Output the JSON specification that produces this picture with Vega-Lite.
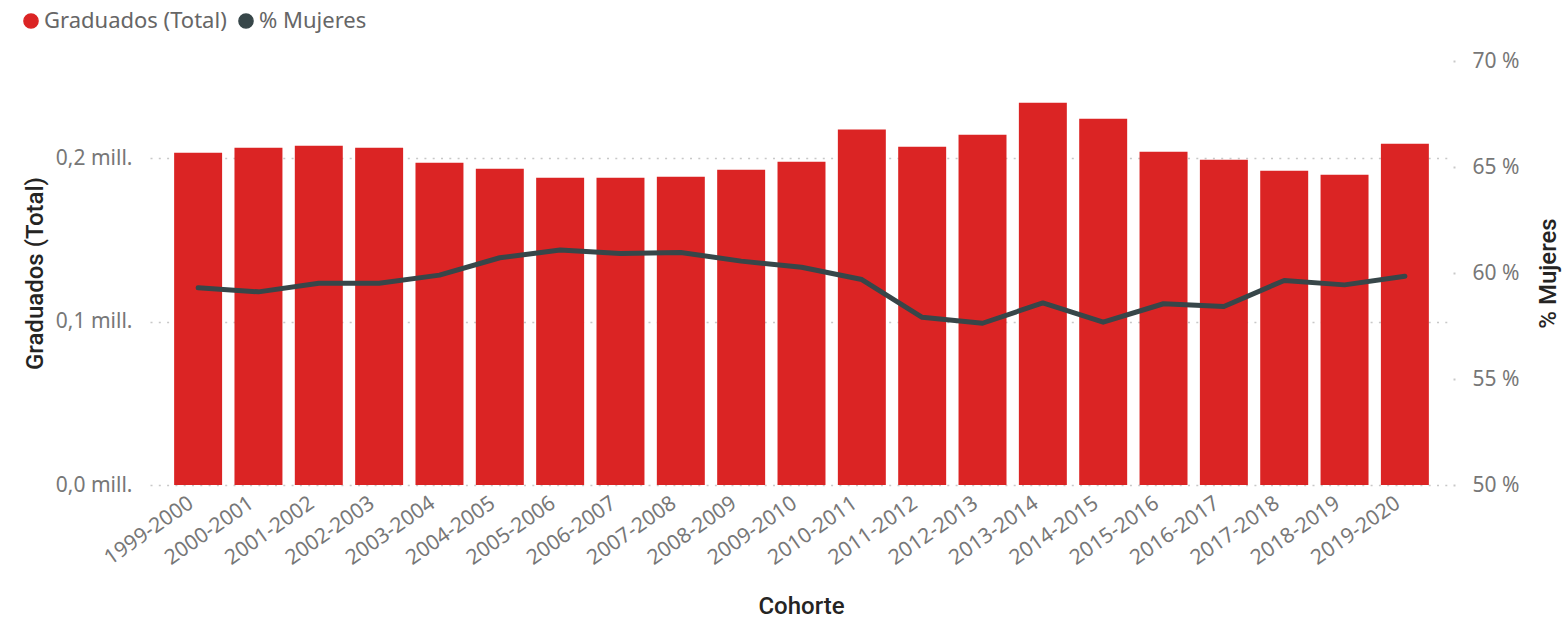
{
  "$schema": "https://vega.github.io/schema/vega-lite/v6.json",
  "autosize": {"type": "none"},
  "padding": {"left": 150, "top": 61, "right": 109, "bottom": 135},
  "width": 1303,
  "height": 424,
  "background": "#ffffff",
  "config": {
    "view": {"stroke": null},
    "font": "Noto Sans",
    "axis": {
      "labelFont": "Noto Sans",
      "labelFontSize": 21,
      "labelColor": "#777777",
      "titleFont": "Roboto",
      "titleFontSize": 24,
      "titleFontWeight": 500,
      "titleColor": "#252423",
      "domain": false
    }
  },
  "data": {
    "values": [
      {"cohorte": "1999-2000", "graduados": 203200, "mujeres": 59.30},
      {"cohorte": "2000-2001", "graduados": 206300, "mujeres": 59.11},
      {"cohorte": "2001-2002", "graduados": 207500, "mujeres": 59.52},
      {"cohorte": "2002-2003", "graduados": 206300, "mujeres": 59.52},
      {"cohorte": "2003-2004", "graduados": 197100, "mujeres": 59.90},
      {"cohorte": "2004-2005", "graduados": 193500, "mujeres": 60.72},
      {"cohorte": "2005-2006", "graduados": 188000, "mujeres": 61.08},
      {"cohorte": "2006-2007", "graduados": 188000, "mujeres": 60.92},
      {"cohorte": "2007-2008", "graduados": 188600, "mujeres": 60.97},
      {"cohorte": "2008-2009", "graduados": 192800, "mujeres": 60.56},
      {"cohorte": "2009-2010", "graduados": 197700, "mujeres": 60.27},
      {"cohorte": "2010-2011", "graduados": 217500, "mujeres": 59.69},
      {"cohorte": "2011-2012", "graduados": 206900, "mujeres": 57.91},
      {"cohorte": "2012-2013", "graduados": 214300, "mujeres": 57.63},
      {"cohorte": "2013-2014", "graduados": 233800, "mujeres": 58.59},
      {"cohorte": "2014-2015", "graduados": 224000, "mujeres": 57.68},
      {"cohorte": "2015-2016", "graduados": 203900, "mujeres": 58.55},
      {"cohorte": "2016-2017", "graduados": 199000, "mujeres": 58.42},
      {"cohorte": "2017-2018", "graduados": 192200, "mujeres": 59.65},
      {"cohorte": "2018-2019", "graduados": 189800, "mujeres": 59.44},
      {"cohorte": "2019-2020", "graduados": 208700, "mujeres": 59.85}
    ]
  },
  "encoding": {
    "x": {
      "field": "cohorte",
      "type": "ordinal",
      "sort": null,
      "scale": {"paddingInner": 0.205, "paddingOuter": 0.4},
      "axis": {
        "title": "Cohorte",
        "titleX": 651,
        "titleY": 121,
        "titleAlign": "center",
        "titleBaseline": "middle",
        "labelAngle": -35,
        "labelAlign": "right",
        "labelBaseline": "top",
        "labelPadding": 7,
        "labelOffset": -13,
        "ticks": false,
        "grid": false
      }
    }
  },
  "layer": [
    {
      "mark": {"type": "bar", "color": "#DB2424"},
      "encoding": {
        "y": {
          "field": "graduados",
          "type": "quantitative",
          "scale": {"domain": [0, 259400], "nice": false, "zero": true},
          "axis": {
            "title": "Graduados (Total)",
            "titleAngle": -90,
            "titleX": -115,
            "titleY": 212,
            "titleAlign": "center",
            "titleBaseline": "middle",
            "values": [0, 100000, 200000],
            "labelExpr": "replace(format(datum.value / 1000000, '.1f'), '.', ',') + ' mill.'",
            "labelPadding": 18,
            "ticks": false,
            "grid": true,
            "gridColor": "#c8c8c8",
            "gridDash": [2, 6.3],
            "gridWidth": 1.5
          }
        },
        "color": {
          "datum": "Graduados (Total)",
          "type": "nominal",
          "scale": {"domain": ["Graduados (Total)", "% Mujeres"], "range": ["#DB2424", "#374649"]},
          "legend": {
            "title": null,
            "orient": "none",
            "direction": "horizontal",
            "legendX": -130,
            "legendY": -51,
            "padding": 0,
            "symbolType": "circle",
            "symbolSize": 200,
            "labelFont": "Noto Sans",
            "labelFontSize": 22,
            "labelLimit": 400,
            "labelColor": "#666666",
            "labelOffset": 2,
            "columnPadding": 8,
            "encode": {
              "symbols": {
                "update": {
                  "fill": {"scale": "color", "field": "value"},
                  "stroke": {"value": "transparent"},
                  "shape": {"value": "circle"},
                  "size": {"value": 200}
                }
              }
            }
          }
        }
      }
    },
    {
      "mark": {"type": "line", "strokeWidth": 5, "strokeCap": "round", "strokeJoin": "round"},
      "encoding": {
        "y": {
          "field": "mujeres",
          "type": "quantitative",
          "scale": {"domain": [50, 70], "nice": false, "zero": false},
          "axis": {
            "orient": "right",
            "title": "% Mujeres",
            "titleAngle": -90,
            "titleX": 95,
            "titleY": 212,
            "titleAlign": "center",
            "titleBaseline": "middle",
            "values": [50, 55, 60, 65, 70],
            "labelExpr": "datum.value + ' %'",
            "labelPadding": 17,
            "ticks": true,
            "tickSize": 2,
            "tickWidth": 2,
            "tickColor": "#c8c8c8",
            "grid": false
          }
        },
        "color": {"datum": "% Mujeres", "type": "nominal"}
      }
    }
  ],
  "resolve": {"scale": {"y": "independent"}}
}
